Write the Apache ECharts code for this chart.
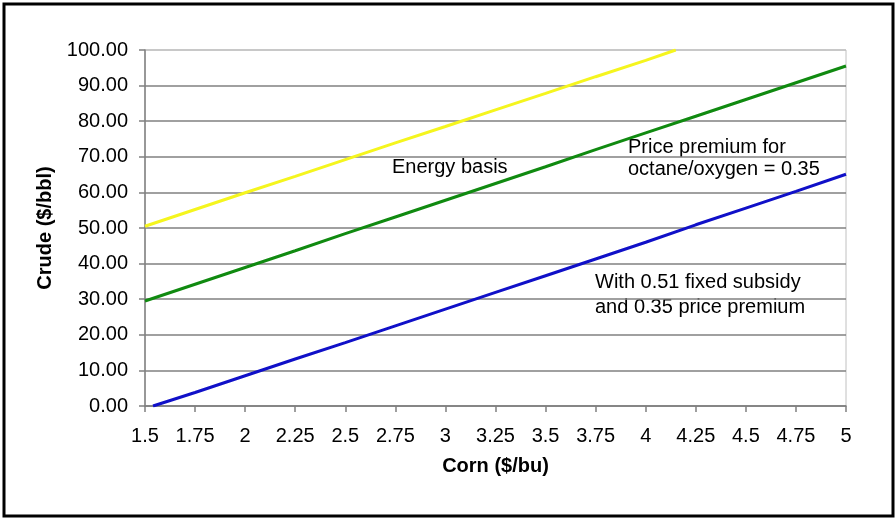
<!DOCTYPE html>
<html>
<head>
<meta charset="utf-8">
<script src="https://cdn.jsdelivr.net/npm/echarts@6/dist/echarts.min.js"></script>
<style>
  html, body { margin: 0; padding: 0; background: #fff; }
  #chart { width: 896px; height: 519px; }
</style>
</head>
<body>
<div id="chart"></div>
<script>
// corn price ($/bu) vs break-even crude price ($/bbl)
var energyBasis = [
  [1.5, 50.5], [1.75, 55.2], [2, 59.9], [2.25, 64.5], [2.5, 69.2],
  [2.75, 73.9], [3, 78.5], [3.25, 83.2], [3.5, 87.8], [3.75, 92.5],
  [4, 97.1], [4.15, 100]
];
var pricePremium = [
  [1.5, 29.5], [1.75, 34.2], [2, 38.9], [2.25, 43.6], [2.5, 48.4],
  [2.75, 53.1], [3, 57.8], [3.25, 62.5], [3.5, 67.2], [3.75, 72.0],
  [4, 76.7], [4.25, 81.4], [4.5, 86.1], [4.75, 90.8], [5, 95.5]
];
var subsidyPremium = [
  [1.54, 0], [1.75, 3.8], [2, 8.5], [2.25, 13.2], [2.5, 17.8],
  [2.75, 22.5], [3, 27.2], [3.25, 31.9], [3.5, 36.6], [3.75, 41.3],
  [4, 46.0], [4.25, 50.9], [4.5, 55.6], [4.75, 60.3], [5, 65.1]
];

var font = 'Liberation Sans, Arial, sans-serif';
var chart = echarts.init(document.getElementById('chart'));

// top gridline is lighter, like the plot border
var gridColors = [];
for (var i = 0; i < 10; i++) gridColors.push('#808080');
gridColors.push('#c0c0c0');

var option = {
  backgroundColor: '#fff',
  animation: false,
  grid: {
    left: 145,
    right: 50,
    top: 50,
    bottom: 113,
    show: true,
    backgroundColor: '#fff',
    borderColor: '#c0c0c0',
    borderWidth: 1
  },
  xAxis: {
    type: 'value',
    min: 1.5,
    max: 5,
    interval: 0.25,
    name: 'Corn ($/bu)',
    nameLocation: 'middle',
    nameGap: 50,
    nameTextStyle: { fontFamily: font, fontSize: 20, fontWeight: 'bold', color: '#000' },
    axisLine: { lineStyle: { color: '#808080', width: 1.5 } },
    axisTick: { show: true, length: 6, lineStyle: { color: '#808080', width: 1.5 } },
    axisLabel: { fontFamily: font, fontSize: 20, color: '#000', margin: 20 },
    splitLine: { show: false }
  },
  yAxis: {
    type: 'value',
    min: 0,
    max: 100,
    interval: 10,
    name: 'Crude ($/bbl)',
    nameLocation: 'middle',
    nameGap: 88,
    nameTextStyle: { fontFamily: font, fontSize: 20, fontWeight: 'bold', color: '#000' },
    axisLine: { show: true, lineStyle: { color: '#808080', width: 1.5 } },
    axisTick: { show: true, length: 6, lineStyle: { color: '#808080', width: 1.5 } },
    axisLabel: {
      fontFamily: font, fontSize: 20, color: '#000', margin: 17,
      formatter: function (v) { return v.toFixed(2); }
    },
    splitLine: { show: true, lineStyle: { color: gridColors, width: 1.5 } }
  },
  series: [
    {
      name: 'Energy basis',
      type: 'line',
      data: energyBasis,
      showSymbol: false,
      lineStyle: { color: '#f5f51e', width: 3 }
    },
    {
      name: 'Price premium',
      type: 'line',
      data: pricePremium,
      showSymbol: false,
      lineStyle: { color: '#108a10', width: 3 }
    },
    {
      name: 'Subsidy and premium',
      type: 'line',
      data: subsidyPremium,
      showSymbol: false,
      lineStyle: { color: '#1010c8', width: 3 }
    }
  ],
  graphic: [
    {
      type: 'rect',
      shape: { x: 4, y: 4, width: 889, height: 512 },
      style: { fill: 'none', stroke: '#000', lineWidth: 3 },
      z: 100
    },
    {
      type: 'text', left: 392, top: 157,
      style: { text: 'Energy basis', font: '20px ' + font, fill: '#000' }
    },
    {
      type: 'text', left: 628, top: 136,
      style: { text: 'Price premium for\noctane/oxygen = 0.35', font: '20px ' + font, fill: '#000', lineHeight: 22 }
    },
    {
      type: 'text', left: 595, top: 270,
      style: { text: 'With 0.51 fixed subsidy\nand 0.35 price premium', font: '20px ' + font, fill: '#000', lineHeight: 25 }
    }
  ]
};

chart.setOption(option);
</script>
</body>
</html>
